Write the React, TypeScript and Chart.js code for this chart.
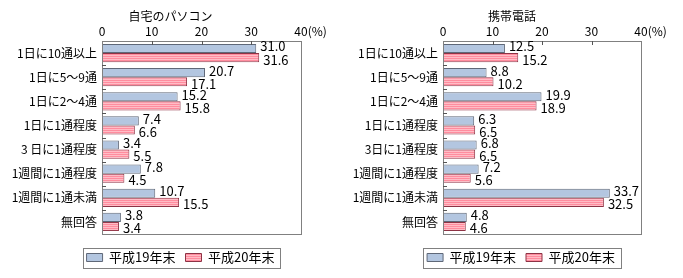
import React, { useEffect, useRef } from "react";
import { Chart, registerables } from "chart.js";

Chart.register(...registerables);

const categoriesPC = ["1日に10通以上", "1日に5～9通", "1日に2～4通", "1日に1通程度", "3 日に1通程度", "1週間に1通程度", "1週間に1通未満", "無回答"];
const categoriesMobile = ["1日に10通以上", "1日に5～9通", "1日に2～4通", "1日に1通程度", "3日に1通程度", "1週間に1通程度", "1週間に1通未満", "無回答"];
const seriesNames = ["平成19年末", "平成20年末"];
const pcH19 = [31.0, 20.7, 15.2, 7.4, 3.4, 7.8, 10.7, 3.8];
const pcH20 = [31.6, 17.1, 15.8, 6.6, 5.5, 4.5, 15.5, 3.4];
const mobileH19 = [12.5, 8.8, 19.9, 6.3, 6.8, 7.2, 33.7, 4.8];
const mobileH20 = [15.2, 10.2, 18.9, 6.5, 6.5, 5.6, 32.5, 4.6];
const titles = ["自宅のパソコン", "携帯電話"];
const xMin = 0;
const xMax = 40;
const xStep = 10;
const unitLabel = "(%)";

const FONT = "'Noto Sans CJK JP', 'Noto Sans', sans-serif";

function stripePattern(): CanvasPattern | string {
  const c = document.createElement("canvas");
  c.width = 4;
  c.height = 2;
  const g = c.getContext("2d");
  if (!g) return "#FF9AAA";
  g.fillStyle = "#FF8C9E";
  g.fillRect(0, 0, 4, 1);
  g.fillStyle = "#FFBCC6";
  g.fillRect(0, 1, 4, 1);
  return g.createPattern(c, "repeat") || "#FF9AAA";
}

const decorPlugin = {
  id: "decor",
  afterLayout(chart: any, _args: any, opts: any) {
    const lg = chart.legend;
    if (lg) {
      lg.top += 7;
      lg.bottom += 7;
      lg.left += opts.legendShift;
      lg.right += opts.legendShift;
    }
  },
  afterDatasetsDraw(chart: any, _args: any, opts: any) {
    const ctx = chart.ctx as CanvasRenderingContext2D;
    const area = chart.chartArea;
    const xs = chart.scales.x;
    const ys = chart.scales.y;
    ctx.save();
    // frame
    ctx.strokeStyle = "#808080";
    ctx.lineWidth = 1;
    ctx.strokeRect(Math.round(area.left) + 0.5, Math.round(area.top) + 0.5, Math.round(area.right - area.left), Math.round(area.bottom - area.top));
    // inner ticks on top
    ctx.strokeStyle = "#555";
    for (let v = xMin + xStep; v < xMax; v += xStep) {
      const x = Math.round(xs.getPixelForValue(v)) + 0.5;
      ctx.beginPath();
      ctx.moveTo(x, area.top);
      ctx.lineTo(x, area.top + 4);
      ctx.stroke();
    }
    // inner ticks on left at category boundaries
    const n = chart.data.labels.length;
    for (let i = 0; i < n - 1; i++) {
      const y = Math.round((ys.getPixelForValue(i) + ys.getPixelForValue(i + 1)) / 2) + 0.5;
      ctx.beginPath();
      ctx.moveTo(area.left, y);
      ctx.lineTo(area.left + 4, y);
      ctx.stroke();
    }
    // value labels
    ctx.fillStyle = "#000";
    ctx.font = `13px ${FONT}`;
    ctx.textBaseline = "middle";
    ctx.textAlign = "left";
    chart.data.datasets.forEach((ds: any, di: number) => {
      const meta = chart.getDatasetMeta(di);
      meta.data.forEach((bar: any, i: number) => {
        const v = ds.data[i] as number;
        ctx.fillText(v.toFixed(1), bar.x + 4, bar.y + (di === 0 ? -2 : 2));
      });
    });
    // unit after last tick
    ctx.font = `12px ${FONT}`;
    const lastX = xs.getPixelForValue(xMax);
    const w = ctx.measureText(String(xMax)).width;
    ctx.fillText(unitLabel, lastX + w / 2, xs.bottom - 2 - 7.2);
    // title
    ctx.textAlign = "center";
    ctx.fillText(opts.title, chart.width / 2, 16);
    ctx.restore();
  },
  afterDraw(chart: any) {
    const lg = chart.legend;
    if (!lg || !lg.legendHitBoxes || !lg.legendHitBoxes.length) return;
    const hb = lg.legendHitBoxes;
    const first = hb[0];
    const last = hb[hb.length - 1];
    const ctx = chart.ctx as CanvasRenderingContext2D;
    ctx.save();
    ctx.strokeStyle = "#808080";
    ctx.lineWidth = 1;
    const l = Math.round(first.left - 4) + 0.5;
    const r = Math.round(last.left + last.width + 6) + 0.5;
    const t = Math.round(first.top - 3) + 0.5;
    const b = Math.round(first.top + first.height + 4) + 0.5;
    ctx.strokeRect(l, t, r - l, b - t);
    ctx.restore();
  },
};

function Panel({ title, labels, a, b, width, padRight }: { title: string; labels: string[]; a: number[]; b: number[]; width: number; padRight: number }) {
  const ref = useRef<HTMLCanvasElement | null>(null);
  useEffect(() => {
    if (!ref.current) return;
    const chart = new Chart(ref.current, {
      type: "bar",
      data: {
        labels,
        datasets: [
          {
            label: seriesNames[0],
            data: a,
            backgroundColor: "#B3C6E0",
            borderColor: "#5F6878",
            borderWidth: 1,
            borderSkipped: false,
            categoryPercentage: 0.76,
            barPercentage: 1,
          },
          {
            label: seriesNames[1],
            data: b,
            backgroundColor: stripePattern() as any,
            borderColor: "#8E3345",
            borderWidth: 1,
            borderSkipped: false,
            categoryPercentage: 0.76,
            barPercentage: 1,
          },
        ],
      },
      options: {
        indexAxis: "y",
        responsive: false,
        animation: false,
        layout: { padding: { left: 0, right: padRight, top: 0, bottom: 11 } },
        scales: {
          x: {
            type: "linear",
            position: "top",
            min: xMin,
            max: xMax,
            grid: { display: false, drawTicks: false },
            border: { display: false },
            ticks: { stepSize: xStep, color: "#000", font: { family: FONT, size: 12 }, padding: 2 },
            afterFit: (s: any) => {
              s.height = 41;
            },
          },
          y: {
            type: "category",
            grid: { display: false, drawTicks: false },
            border: { display: false },
            ticks: { color: "#000", font: { family: FONT, size: 12 }, padding: 5, autoSkip: false },
            afterFit: (s: any) => {
              s.width = 102;
            },
          },
        },
        plugins: {
          title: { display: false },
          tooltip: { enabled: false },
          legend: {
            display: true,
            position: "bottom",
            labels: {
              boxWidth: 16,
              boxHeight: 8,
              padding: 10,
              color: "#000",
              font: { family: FONT, size: 13 },
            },
          },
          decor: { title, legendShift: 30 },
        } as any,
      },
      plugins: [decorPlugin as any],
    } as any);
    return () => chart.destroy();
  }, []);
  return <canvas ref={ref} width={width} height={278} style={{ display: "block" }} />;
}

export default function App() {
  return (
    <div style={{ position: "absolute", left: 0, top: 0, width: 683, height: 278, background: "#fff", display: "flex" }}>
      <Panel title={titles[0]} labels={categoriesPC} a={pcH19} b={pcH20} width={341} padRight={40} />
      <Panel title={titles[1]} labels={categoriesMobile} a={mobileH19} b={mobileH20} width={342} padRight={42} />
    </div>
  );
}
